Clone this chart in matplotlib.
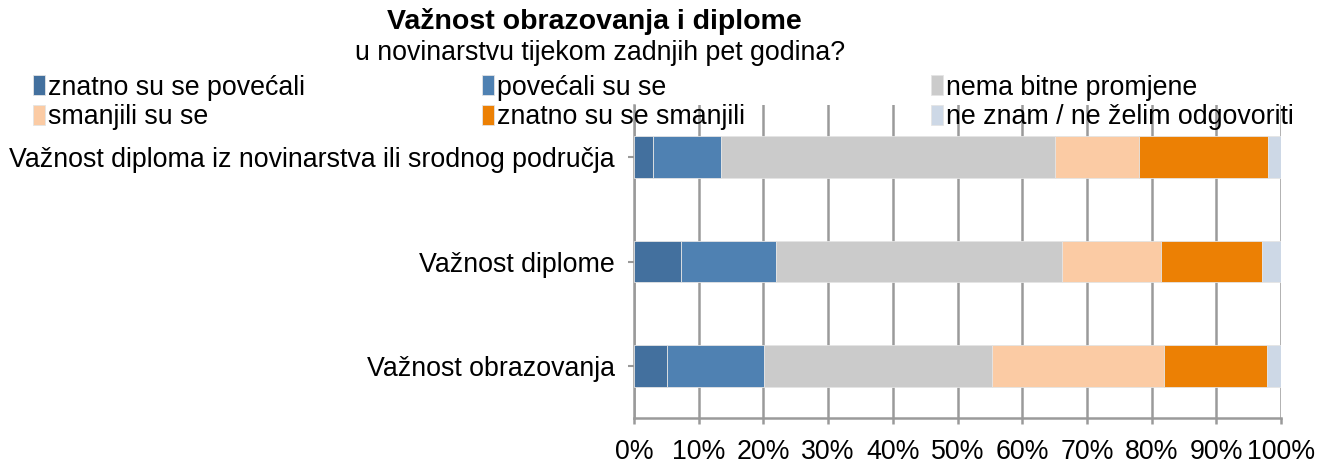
import matplotlib
matplotlib.use("Agg")
import matplotlib.pyplot as plt
import numpy as np

plt.rcParams['font.family'] = ['Liberation Sans', 'DejaVu Sans']

categories = ["Važnost obrazovanja", "Važnost diplome",
              "Važnost diploma iz novinarstva ili srodnog područja"]
series_names = ["znatno su se povećali", "povećali su se", "nema bitne promjene",
                "smanjili su se", "znatno su se smanjili", "ne znam / ne želim odgovoriti"]
values = {
    "znatno su se povećali":         [5.1, 7.3, 2.9],
    "povećali su se":                [15.0, 14.7, 10.5],
    "nema bitne promjene":           [35.2, 44.2, 51.7],
    "smanjili su se":                [26.6, 15.3, 13.0],
    "znatno su se smanjili":         [15.9, 15.5, 19.8],
    "ne znam / ne želim odgovoriti": [2.2, 3.0, 2.1],
}
colors = ["#43709e", "#4f81b2", "#cbcbcb", "#fbcba4", "#ec8004", "#cdd8e6"]
xticks = [0, 10, 20, 30, 40, 50, 60, 70, 80, 90, 100]

FS = 19.3
fig = plt.figure(figsize=(13.18, 4.72), dpi=100)
ax = fig.add_axes([0.481, 0.1144, 0.491, 0.663])

y = np.arange(len(categories))
left = np.zeros(len(categories))
handles = []
for name, c in zip(series_names, colors):
    v = np.array(values[name])
    h = ax.barh(y, v, left=left, height=0.4, color=c, edgecolor="#e4e4e4",
                linewidth=0.6, zorder=3, label=name)
    handles.append(h)
    left += v

ax.set_xlim(0, 100)
ax.set_ylim(-0.5, 2.5)
ax.set_xticks(xticks)
ax.set_xticklabels([f"{t}%" for t in xticks], fontsize=FS)
ax.set_yticks(y)
ax.set_yticklabels(categories, fontsize=FS)
ax.grid(axis="x", color="#9a9a9a", linewidth=1.8, zorder=0)
for s in ["top", "right"]:
    ax.spines[s].set_visible(False)
for s in ["left", "bottom"]:
    ax.spines[s].set_color("#9a9a9a")
    ax.spines[s].set_linewidth(1.8)
ax.tick_params(axis="x", colors="#9a9a9a", length=4, width=1.8, labelcolor="black", pad=11)
ax.tick_params(axis="y", colors="#9a9a9a", length=4, width=1.5, labelcolor="black", pad=10)

fig.text(0.451, 0.954, "Važnost obrazovanja i diplome", ha="center", va="center",
         fontsize=20.5, fontweight="bold")
fig.text(0.455, 0.888, "u novinarstvu tijekom zadnjih pet godina?", ha="center",
         va="center", fontsize=FS)

col_x = [33 / 1318, 482 / 1318, 931 / 1318]
columns = [[0, 3], [1, 4], [2, 5]]
for cx, idx in zip(col_x, columns):
    lg = fig.legend([handles[i] for i in idx], [series_names[i] for i in idx],
                    ncol=1, loc="upper left", bbox_to_anchor=(cx, 0.842),
                    frameon=False, fontsize=FS, handlelength=0.45, handleheight=0.75,
                    handletextpad=0.12, labelspacing=0.13,
                    borderpad=0.0, borderaxespad=0.0)

fig.savefig("out.png", dpi=100)
